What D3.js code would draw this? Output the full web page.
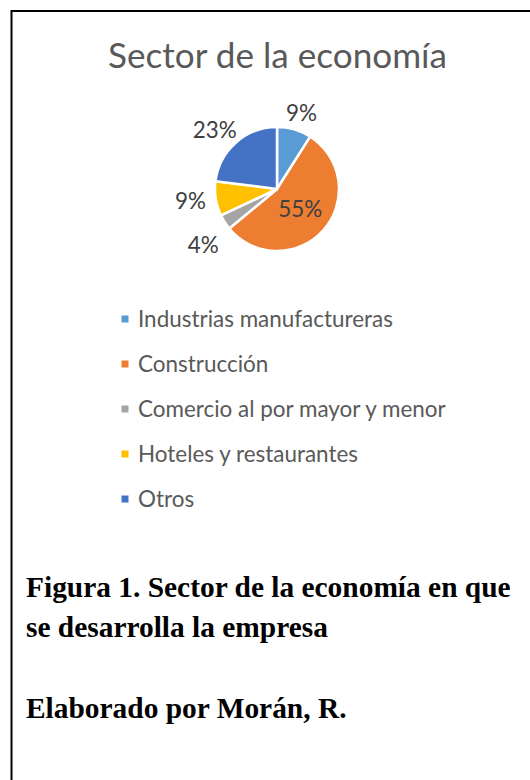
<!DOCTYPE html>
<html>
<head>
<meta charset="utf-8">
<script src="https://cdn.jsdelivr.net/npm/d3@7"></script>
<style>
  body { margin: 0; background: #fff; }
</style>
</head>
<body>
<script>
// data
var sectors = ["Industrias manufactureras", "Construcción", "Comercio al por mayor y menor", "Hoteles y restaurantes", "Otros"];
var shares = [9, 55, 4, 9, 23];
var colors = ["#5B9BD5", "#ED7D31", "#A5A5A5", "#FFC000", "#4472C4"];
var caption = ["Figura 1. Sector de la economía en que", "se desarrolla la empresa", "", "Elaborado por Morán, R."];

var w = 530;
var h = 780;

var svg = d3.select("body").append("svg")
    .attr("width", w)
    .attr("height", h);

// shrinks or grows a text's font so it spans the given width
function fitText(sel, target) {
    var size = parseFloat(sel.style("font-size"));
    var len = sel.node().getComputedTextLength();
    size = size * target / len;
    sel.style("font-size", size + "px");
    return size;
}

// frame: only top and left edges show
svg.append("path")
    .attr("d", "M11.5,780 L11.5,11 L530,11")
    .attr("fill", "none")
    .attr("stroke", "#000")
    .attr("stroke-width", 2);

// title
var title = svg.append("text")
    .attr("x", 277.5)
    .attr("y", 68)
    .attr("text-anchor", "middle")
    .style("font-family", "Lato, 'Open Sans', sans-serif")
    .style("font-size", "32px")
    .attr("fill", "#595959")
    .text("Sector de la economía");
fitText(title, 339);

// pie
var cx = 277, cy = 189, r = 62;
var pie = d3.pie().sort(null).value(function(d) { return d; });
var arc = d3.arc().innerRadius(0).outerRadius(r);
var arcs = pie(shares);

var g = svg.append("g").attr("transform", "translate(" + cx + "," + cy + ")");

g.selectAll("path.slice")
    .data(arcs)
    .enter()
    .append("path")
    .attr("class", "slice")
    .attr("d", arc)
    .attr("fill", function(d, i) { return colors[i]; })
    .attr("stroke", "#fff")
    .attr("stroke-width", 2.5)
    .attr("stroke-linejoin", "round");

// legend rows
var legendY = d3.scalePoint().domain(sectors).range([319, 499]);

var legend = svg.selectAll("g.legend")
    .data(sectors)
    .enter()
    .append("g")
    .attr("class", "legend");

legend.append("rect")
    .attr("x", 121.5)
    .attr("y", function(d) { return legendY(d) - 3.5; })
    .attr("width", 7)
    .attr("height", 7)
    .attr("fill", function(d, i) { return colors[i]; });

var legendText = legend.append("text")
    .attr("x", 138)
    .attr("y", function(d) { return legendY(d); })
    .attr("dy", "0.35em")
    .style("font-family", "Lato, 'Open Sans', sans-serif")
    .style("font-size", "20px")
    .attr("fill", "#595959")
    .text(function(d) { return d; });
var legendSize = fitText(d3.select(legendText.nodes()[0]), 255);
legendText.style("font-size", legendSize + "px");

// percentage labels: biggest slice inside, others just outside the rim
var labels = g.selectAll("text.pct")
    .data(arcs)
    .enter()
    .append("text")
    .attr("class", "pct")
    .attr("text-anchor", "middle")
    .attr("dy", "0.35em")
    .style("font-family", "Lato, 'Open Sans', sans-serif")
    .style("font-size", legendSize + "px")
    .attr("fill", "#404040")
    .text(function(d) { return d.value + "%"; });

var placed = [];
labels.each(function(d) {
    var a = (d.startAngle + d.endAngle) / 2;
    var hw = this.getComputedTextLength() / 2;
    var hh = 7;
    var p = {node: this, outside: d.value <= 50};
    if (!p.outside) {
        p.x = Math.sin(a) * r * 0.5;
        p.y = -Math.cos(a) * r * 0.5;
    } else {
        var rr = r + 10;
        p.x = Math.sin(a) * (rr + hw);
        p.y = -Math.cos(a) * (rr + hh);
    }
    placed.push(p);
});

// keep outside labels that sit over each other a line apart
var outside = placed.filter(function(p) { return p.outside; })
    .sort(function(a, b) { return a.y - b.y; });
for (var i = 1; i < outside.length; i++) {
    for (var j = 0; j < i; j++) {
        if (Math.abs(outside[i].x - outside[j].x) < 40 && outside[i].y - outside[j].y < 44) {
            outside[i].y = outside[j].y + 44;
        }
    }
}

placed.forEach(function(p) {
    d3.select(p.node).attr("x", p.x).attr("y", p.y);
});

// caption below the chart
var capY = d3.scalePoint().domain(d3.range(caption.length)).range([597, 718]);
var capText = svg.selectAll("text.caption")
    .data(caption)
    .enter()
    .append("text")
    .attr("class", "caption")
    .attr("x", 26)
    .attr("y", function(d, i) { return capY(i); })
    .style("font-family", "'Liberation Serif', 'Times New Roman', serif")
    .style("font-weight", "bold")
    .style("font-size", "28px")
    .attr("fill", "#000")
    .text(function(d) { return d; });
var capSize = fitText(d3.select(capText.nodes()[0]), 485);
capText.style("font-size", capSize + "px");
</script>
</body>
</html>
